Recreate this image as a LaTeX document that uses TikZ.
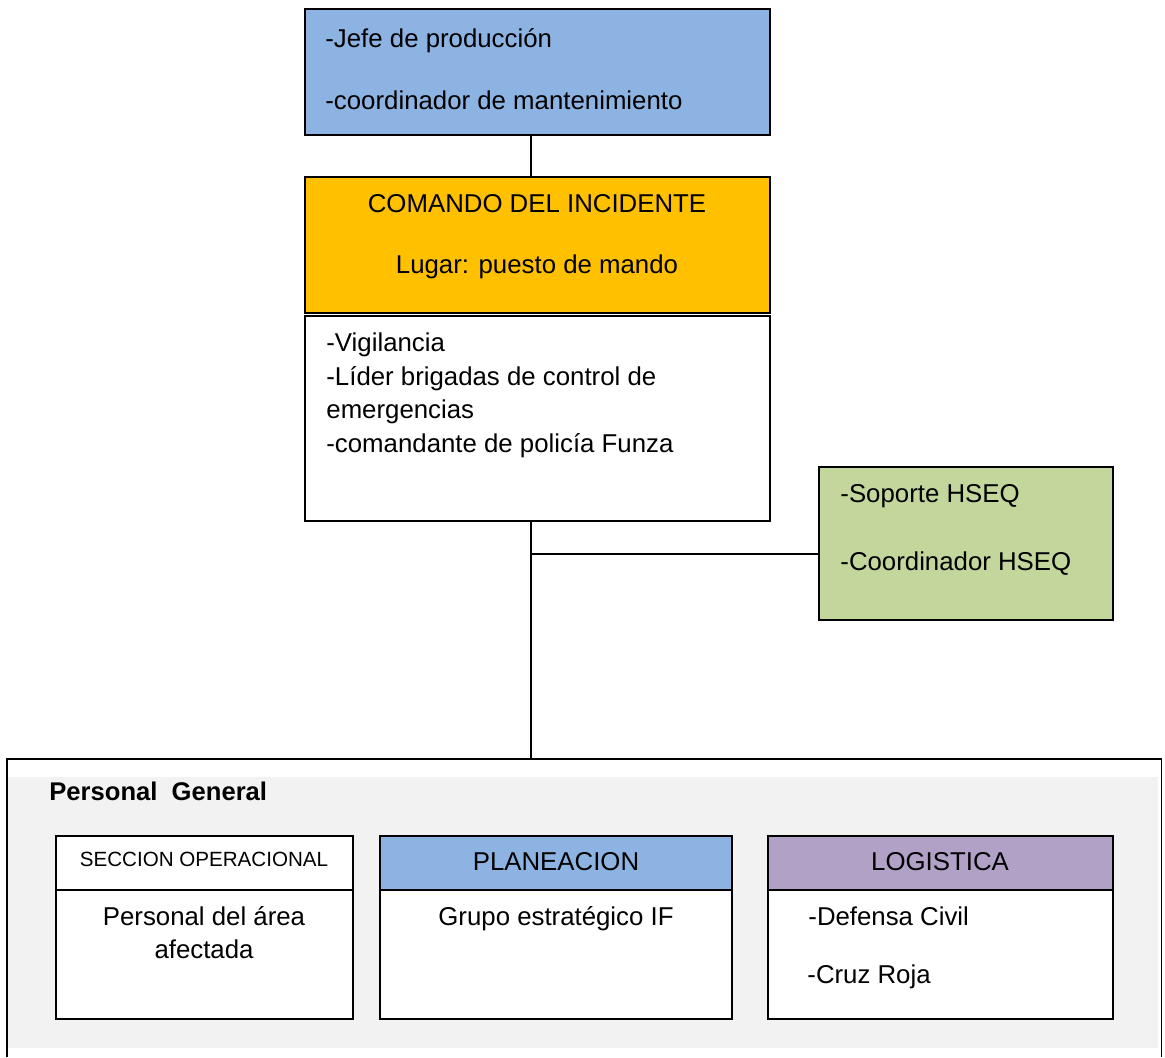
\documentclass[tikz,border=0pt]{standalone}
\usepackage{fontspec}
\setmainfont{Liberation Sans}
\usetikzlibrary{fit}
\definecolor{bluefill}{HTML}{8DB3E2}
\definecolor{orangefill}{HTML}{FFC000}
\definecolor{greenfill}{HTML}{C3D69B}
\definecolor{purplefill}{HTML}{B2A1C7}
\definecolor{greyfill}{HTML}{F2F2F2}
\begin{document}
\begin{tikzpicture}[x=0.5pt,y=-0.5pt,
  box/.style={draw=black, line width=0.9pt, inner sep=0pt},
  area/.style={inner sep=0pt},
  txt/.style={inner sep=0pt, anchor=base west, font=\fontsize{12.9}{15}\selectfont},
  ctxt/.style={inner sep=0pt, anchor=base, font=\fontsize{12.9}{15}\selectfont},
  conn/.style={draw=black, line width=0.7pt}]
\useasboundingbox (0,0) rectangle (1165,1057);

% outer frame for the general staff and its grey panel
\node[area, fit={(7,759) (1161,1057)}] (frame) {};
\fill[greyfill] (8,777) rectangle (1158,1048);
\draw[line width=0.9pt] (frame.south west) -- (frame.north west) -- (frame.north east) -- (frame.south east);
\node[txt, font=\fontsize{12.8}{15}\selectfont\bfseries] (pg) at (49,800) {Personal\ \ General};

% top box
\node[box, fill=bluefill, fit={(305,9) (770,135)}] (jefe) {};
\node[txt] (jefe1) at (325,47) {-Jefe de producción};
\node[txt] (jefe2) at (325,109) {-coordinador de mantenimiento};

% incident command
\node[box, fill=orangefill, fit={(305,177) (770,313)}] (cmd) {};
\node[ctxt] (cmd1) at (537,212) {COMANDO DEL INCIDENTE};
\node[ctxt] (cmd2) at (537,273) {Lugar: puesto de mando};

\node[box, fill=white, fit={(305,316) (770,521)}] (staff) {};
\node[txt] (st1) at (326,351) {-Vigilancia};
\node[txt] (st2) at (326,385) {-Líder brigadas de control de};
\node[txt] (st3) at (326,418) {emergencias};
\node[txt] (st4) at (326,452) {-comandante de policía Funza};

% HSEQ support
\node[box, fill=greenfill, fit={(819,467) (1113,620)}] (hseq) {};
\node[txt] (h1) at (840,502) {-Soporte HSEQ};
\node[txt] (h2) at (840,570) {-Coordinador HSEQ};

% sections
\node[box, fill=white, fit={(56,836) (353,1019)}] (ops) {};
\node[box, fill=white, fit={(56,836) (353,890)}] (opsh) {};
\node[ctxt, font=\fontsize{10.3}{12}\selectfont] (opst) at (204,866) {SECCION OPERACIONAL};
\node[ctxt] (ops1) at (204,925) {Personal del área};
\node[ctxt] (ops2) at (204,958) {afectada};

\node[box, fill=white, fit={(380,836) (732,1019)}] (plan) {};
\node[box, fill=bluefill, fit={(380,836) (732,890)}] (planh) {};
\node[ctxt] (plant) at (556,870) {PLANEACION};
\node[ctxt] (plan1) at (556,925) {Grupo estratégico IF};

\node[box, fill=white, fit={(768,836) (1113,1019)}] (log) {};
\node[box, fill=purplefill, fit={(768,836) (1113,890)}] (logh) {};
\node[ctxt] (logt) at (940,870) {LOGISTICA};
\node[txt] (log1) at (808,925) {-Defensa Civil};
\node[txt] (log2) at (807,983) {-Cruz Roja};

% connectors
\coordinate (spine) at (531,0);
\coordinate (junction) at (531,554);
\draw[conn] (spine |- jefe.south) -- (spine |- cmd.north);
\draw[conn] (spine |- staff.south) -- (spine |- frame.north);
\draw[conn] (junction) -- (junction -| hseq.west);
\end{tikzpicture}
\end{document}
